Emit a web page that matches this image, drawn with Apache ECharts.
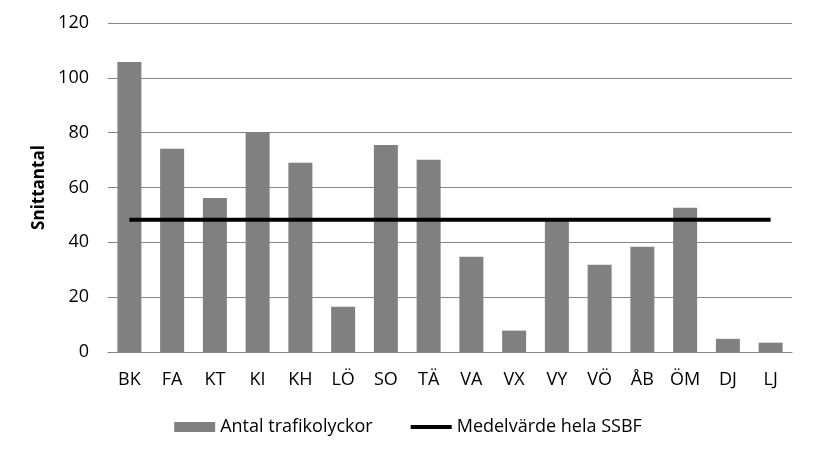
<!DOCTYPE html>
<html><head><meta charset="utf-8">
<script src="https://cdn.jsdelivr.net/npm/echarts@6/dist/echarts.min.js"></script>
<style>html,body{margin:0;padding:0;background:#fff}#c{width:816px;height:455px}</style>
</head><body><div id="c"></div>
<script>
const categories = ["BK","FA","KT","KI","KH","LÖ","SO","TÄ","VA","VX","VY","VÖ","ÅB","ÖM","DJ","LJ"];
const accidents = [105.8,74.1,56.2,80.2,69,16.5,75.5,70.1,34.7,7.8,48,31.8,38.4,52.6,4.8,3.4];
const meanValue = 48.2;
const meanLine = categories.map(() => meanValue);
const yTicks = {min:0, max:120, interval:20};
const font = "'Open Sans', 'Liberation Sans', sans-serif";

const chart = echarts.init(document.getElementById('c'), null, {renderer:'canvas'});
chart.setOption({
  animation:false,
  backgroundColor:'#fff',
  grid:{left:108, right:24, top:23, bottom:103},
  legend:{
    top:413, left:'center', itemGap:38, itemWidth:41, itemHeight:10,
    textStyle:{fontFamily:font, fontSize:18, color:'#000'},
    data:[{name:'Antal trafikolyckor', icon:'rect', itemStyle:{color:'#808080'}},
          {name:'Medelvärde hela SSBF', icon:'path://M0,0H41V4H0Z', itemStyle:{color:'#000'}}]
  },
  xAxis:{
    type:'category', data:categories, boundaryGap:true,
    axisLine:{lineStyle:{color:'#868686'}},
    axisTick:{show:false},
    axisLabel:{fontFamily:font, fontSize:18, color:'#000', margin:19}
  },
  yAxis:{
    type:'value', min:yTicks.min, max:yTicks.max, interval:yTicks.interval,
    name:'Snittantal', nameLocation:'middle', nameGap:59, nameRotate:90,
    nameTextStyle:{fontFamily:font, fontSize:17, fontWeight:'bold', color:'#000'},
    axisLine:{show:false}, axisTick:{show:false},
    axisLabel:{fontFamily:font, fontSize:18, color:'#000', margin:19},
    splitLine:{lineStyle:{color:'#868686', width:1}}
  },
  series:[
    {name:'Antal trafikolyckor', type:'bar', data:accidents, barWidth:24,
     itemStyle:{color:'#808080'}},
    {name:'Medelvärde hela SSBF', type:'line', data:meanLine, symbol:'none',
     lineStyle:{color:'#000', width:4}, itemStyle:{color:'#000'}, z:5}
  ]
});
</script></body></html>
